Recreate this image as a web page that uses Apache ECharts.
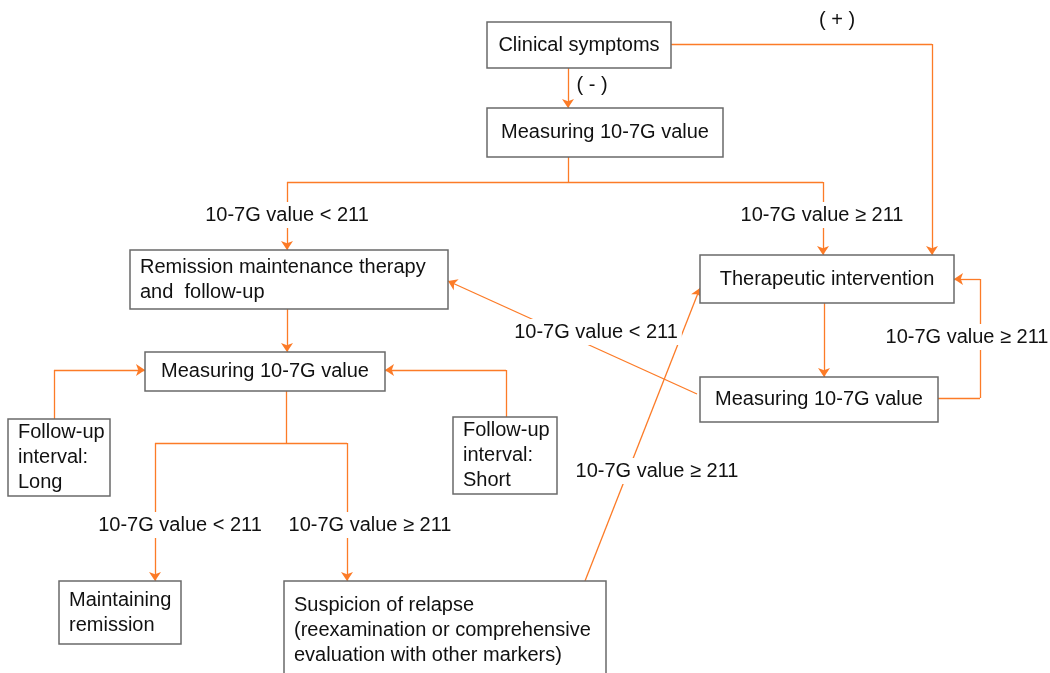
<!DOCTYPE html>
<html>
<head>
<meta charset="utf-8">
<title>10-7G flowchart</title>
<script src="https://cdn.jsdelivr.net/npm/echarts@6/dist/echarts.min.js"></script>
<style>
    html, body { margin: 0; padding: 0; background: #fff; }
    #chart { width: 1050px; height: 673px; }
</style>
</head>
<body>
<div id="chart"></div>
<script>
// box texts
const nodeLabels = [
    'Clinical symptoms',
    'Measuring 10-7G value',
    'Remission maintenance therapy\nand  follow-up',
    'Measuring 10-7G value',
    'Therapeutic intervention',
    'Measuring 10-7G value',
    'Follow-up\ninterval:\nLong',
    'Follow-up\ninterval:\nShort',
    'Maintaining\nremission',
    'Suspicion of relapse\n(reexamination or comprehensive\nevaluation with other markers)'
];
// branch texts
const edgeLabels = [
    '( + )',
    '( - )',
    '10-7G value < 211',
    '10-7G value ≥ 211',
    '10-7G value < 211',
    '10-7G value ≥ 211',
    '10-7G value ≥ 211',
    '10-7G value < 211',
    '10-7G value ≥ 211'
];

// layout in page pixels (x right, y down): box [left, top, right, bottom]
const nodeLayout = [
    [487, 22, 671, 68],
    [487, 108, 723, 157],
    [130, 250, 448, 309],
    [145, 352, 385, 391],
    [700, 255, 954, 303],
    [700, 377, 938, 422],
    [8, 419, 110, 496],
    [453, 417, 557, 494],
    [59, 581, 181, 644],
    [284, 581, 606, 679]
];
const labelLayout = [
    [837, 20], [592, 85], [287, 215], [822, 215], [596, 332],
    [967, 337], [657, 471], [180, 525], [370, 525]
];
// connectors ending in an arrow
const arrowPaths = [
    [[568, 68], [568, 108]],
    [[671, 44], [932, 44], [932, 255]],
    [[568, 182], [287, 182], [287, 250]],
    [[568, 182], [823, 182], [823, 255]],
    [[287, 309], [287, 352]],
    [[54, 419], [54, 370], [145, 370]],
    [[506, 417], [506, 370], [385, 370]],
    [[286, 443], [155, 443], [155, 581]],
    [[286, 443], [347, 443], [347, 581]],
    [[824, 303], [824, 377]],
    [[938, 398], [980, 398], [980, 279], [954, 279]],
    [[697, 394], [448, 281]],
    [[585, 581], [700, 288]]
];
// connectors without arrow
const plainPaths = [
    [[568, 157], [568, 182]],
    [[286, 391], [286, 443]]
];

const orange = '#fc7b27';
const font = '"Liberation Sans", Arial, sans-serif';

// split paths into segments, the last segment of an arrow path carries the head
var plainSegs = [];
var headSegs = [];
plainPaths.forEach(function (p) {
    for (var i = 1; i < p.length; i++) plainSegs.push({ coords: [p[i - 1], p[i]] });
});
arrowPaths.forEach(function (p) {
    for (var i = 1; i < p.length; i++) {
        var seg = { coords: [p[i - 1], p[i]] };
        if (i === p.length - 1) headSegs.push(seg);
        else plainSegs.push(seg);
    }
});

var chart = echarts.init(document.getElementById('chart'), null, { renderer: 'canvas' });

var option = {
    animation: false,
    backgroundColor: '#fff',
    grid: { left: 0, right: 0, top: 0, bottom: 0 },
    xAxis: { type: 'value', min: 0, max: 1050, show: false },
    yAxis: { type: 'value', min: 0, max: 673, inverse: true, show: false },
    series: [
        {
            type: 'lines',
            coordinateSystem: 'cartesian2d',
            z: 1,
            symbol: ['none', 'none'],
            lineStyle: { color: orange, width: 1.3, opacity: 1 },
            data: plainSegs
        },
        {
            type: 'lines',
            coordinateSystem: 'cartesian2d',
            z: 1,
            symbol: ['none', 'arrow'],
            symbolSize: 9,
            lineStyle: { color: orange, width: 1.3, opacity: 1 },
            data: headSegs
        },
        {
            type: 'custom',
            z: 3,
            data: nodeLayout,
            renderItem: function (params, api) {
                var p0 = api.coord([api.value(0), api.value(1)]);
                var p1 = api.coord([api.value(2), api.value(3)]);
                var text = nodeLabels[params.dataIndex];
                var multi = text.indexOf('\n') > -1;
                return {
                    type: 'group',
                    children: [
                        {
                            type: 'rect',
                            shape: { x: p0[0], y: p0[1], width: p1[0] - p0[0], height: p1[1] - p0[1] },
                            style: { fill: '#fff', stroke: '#6a6a6a', lineWidth: 1.5 }
                        },
                        {
                            type: 'text',
                            style: {
                                text: text,
                                x: multi ? p0[0] + 10 : (p0[0] + p1[0]) / 2,
                                y: (p0[1] + p1[1]) / 2,
                                align: multi ? 'left' : 'center',
                                verticalAlign: 'middle',
                                fontSize: 20,
                                fontFamily: font,
                                lineHeight: 25,
                                fill: '#111'
                            }
                        }
                    ]
                };
            }
        },
        {
            type: 'scatter',
            z: 4,
            symbolSize: 0,
            itemStyle: { opacity: 1 },
            data: labelLayout.map(function (p, i) { return { name: edgeLabels[i], value: p }; }),
            label: {
                show: true,
                position: 'inside',
                formatter: '{b}',
                fontSize: 20,
                fontFamily: font,
                color: '#111',
                backgroundColor: '#fff',
                padding: [3, 4]
            }
        }
    ]
};
chart.setOption(option);
</script>
</body>
</html>
